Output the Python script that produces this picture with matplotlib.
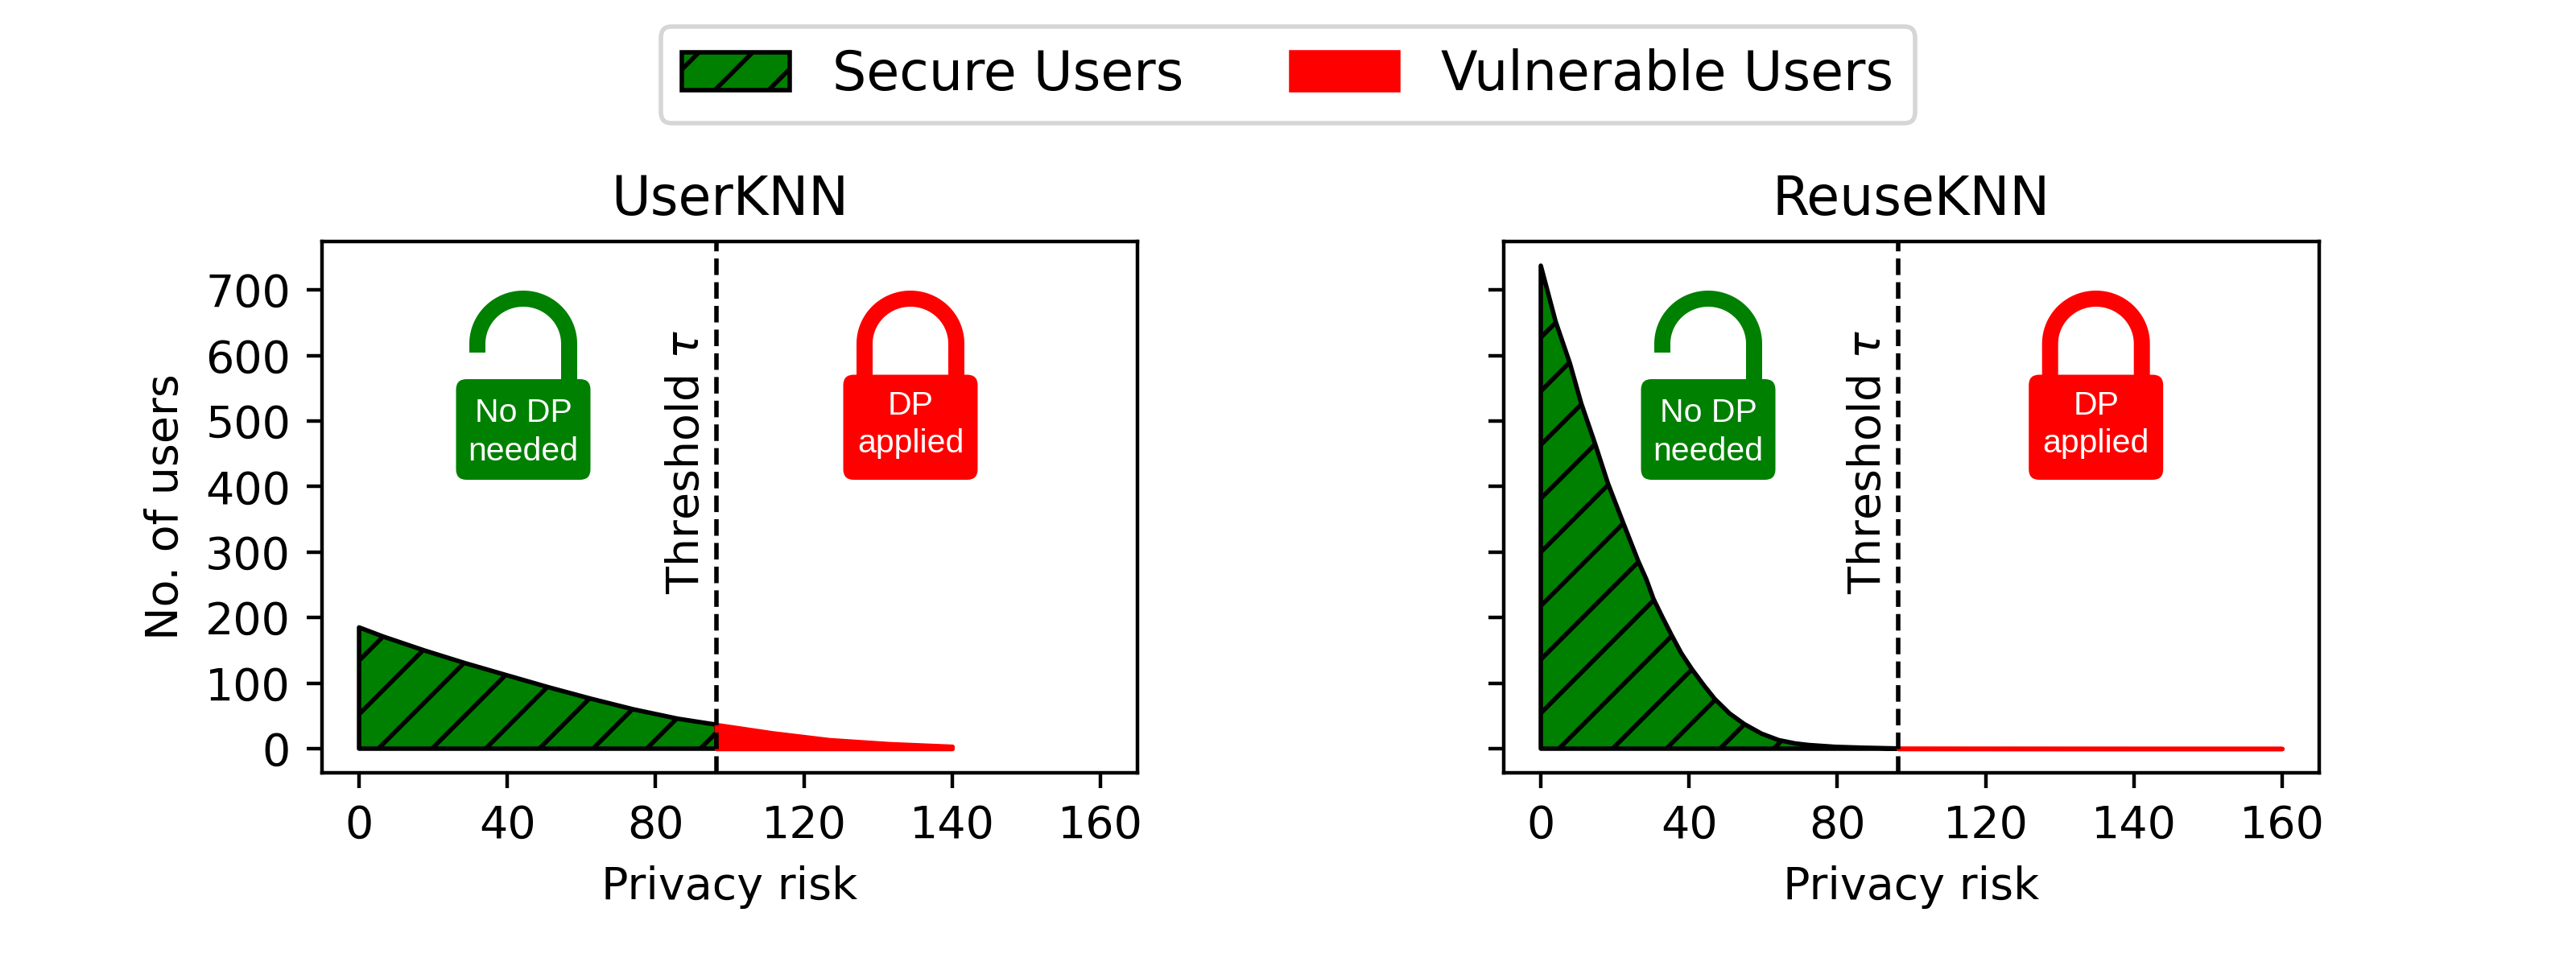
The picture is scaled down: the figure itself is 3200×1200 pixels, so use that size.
import numpy as np
import matplotlib
matplotlib.use("Agg")
import matplotlib.pyplot as plt
from matplotlib.patches import Patch, FancyBboxPatch, PathPatch
from matplotlib.path import Path

# ---- data ----
threshold = 96.4
x_ticks = [0, 40, 80, 120, 140, 160]
y_ticks = [0, 100, 200, 300, 400, 500, 600, 700]

user_secure_x = [0, 6.55, 17.7, 28.6, 40, 51.3, 62.5, 74.1, 86, 96.4]
user_secure_y = [185, 171, 149.7, 130.5, 111.8, 93.4, 76.3, 59.9, 45.7, 36.6]
user_vuln_x = [96.4, 111.5, 123.4, 131.5, 140]
user_vuln_y = [36.6, 24, 13.6, 7.5, 3.5]

reuse_secure_x = [0, 4.0, 7.85, 10.9, 14.6, 18.1, 19.8, 22.3, 26.3, 28.5, 30.4, 32.8, 35.3, 37.9,
                  40.8, 44, 46.9, 50.9, 54.9, 59.5, 64.2, 68.6, 72.2, 79.4, 86.6, 96.4]
reuse_secure_y = [737, 651.7, 588, 527, 466, 405, 380, 343.6, 286, 258, 228.5, 200.7, 173, 145.6,
                  121, 96.6, 76, 53.8, 37.5, 23, 13, 8, 5.6, 2.8, 1.5, 0.3]
reuse_vuln_x = [96.4, 120, 140, 160]
reuse_vuln_y = [0.3, 0.2, 0.1, 0.1]

titles = ["UserKNN", "ReuseKNN"]
legend_labels = ["Secure Users", "Vulnerable Users"]
GREEN, RED = "green", "red"

# tick labels are evenly spaced although their values are not
scale_values = [-40, 0, 40, 80, 120, 140, 160, 180]
scale_pos = [-1, 0, 1, 2, 3, 4, 5, 6]
fwd = lambda v: np.interp(v, scale_values, scale_pos)
inv = lambda p: np.interp(p, scale_pos, scale_values)

DPI = 400
fig, axes = plt.subplots(1, 2, figsize=(8, 3), dpi=DPI, sharey=True)
W, H = 3200, 1200
fig.subplots_adjust(left=400 / W, right=2881 / W, bottom=240 / H, top=900 / H, wspace=455 / 1013)


def P(px, py):
    return px / DPI, (H - py) / DPI


def lock(ax, cx, body_top, color, closed, lines):
    tr = fig.dpi_scale_trans
    bw, bot, rad = 83.5, 596, 13
    x0, y0 = P(cx - bw + rad, bot - rad)
    x1, y1 = P(cx + bw - rad, body_top + rad)
    ax.add_patch(FancyBboxPatch((x0, y0), x1 - x0, y1 - y0,
                                boxstyle=f"round,pad={rad / DPI},rounding_size={rad / DPI}",
                                fc=color, ec="none", transform=tr, clip_on=False, zorder=5))
    rx, ry, arc_y = 57, 56, 427
    t = np.linspace(np.pi, 0, 60)
    pts = [P(cx + rx * c, arc_y - ry * s) for c, s in zip(np.cos(t), np.sin(t))]
    left_end = body_top + 3 if closed else 438
    verts = [P(cx - rx, left_end)] + pts + [P(cx + rx, body_top + 3)]
    ax.add_patch(PathPatch(Path(verts), fc="none", ec=color, lw=20 / DPI * 72,
                           capstyle="butt", transform=tr, clip_on=False, zorder=5))
    for txt, base in lines:
        bx, by = P(cx, base)
        ax.text(bx, by, txt, transform=tr, color="white", family="Liberation Sans",
                fontsize=7.4, ha="center", va="baseline", zorder=6)


series = [(user_secure_x, user_secure_y, user_vuln_x, user_vuln_y),
          (reuse_secure_x, reuse_secure_y, reuse_vuln_x, reuse_vuln_y)]
lock_x = [(650, 1131), (2122, 2603.7)]

for ax, (sx, sy, vx, vy), title, (gx, rx_) in zip(axes, series, titles, lock_x):
    ax.set_xscale("function", functions=(fwd, inv))
    ax.fill_between(sx, sy, 0, facecolor=GREEN, edgecolor="black", hatch="//", linewidth=1)
    ax.fill_between(vx, vy, 0, facecolor=RED, edgecolor=RED, linewidth=1)
    ax.axvline(threshold, color="black", linestyle="--", linewidth=1)
    ax.text(94.2, 236, r"Threshold $\tau$", rotation=90, ha="right", va="bottom", fontsize=10)
    ax.set_xticks(x_ticks)
    ax.set_xticklabels([str(v) for v in x_ticks])
    ax.minorticks_off()
    ax.set_yticks(y_ticks)
    ax.set_xlim(-10, 165)
    ax.set_ylim(-36.85, 773.85)
    ax.set_xlabel("Privacy risk")
    ax.set_title(title, fontsize=12)
    lock(ax, gx, 471, GREEN, False, [("No DP", 523.5), ("needed", 571.7)])
    lock(ax, rx_, 465.5, RED, True, [("DP", 514.7), ("applied", 562.5)])

axes[0].set_ylabel("No. of users")

handles = [Patch(facecolor=GREEN, edgecolor="black", hatch="//", linewidth=1),
           Patch(facecolor=RED, edgecolor=RED, linewidth=1)]
fig.legend(handles, legend_labels, loc="upper center", ncol=2, fontsize=12,
           bbox_to_anchor=(0.5, 1.0))

fig.savefig("out.png", dpi=DPI)
